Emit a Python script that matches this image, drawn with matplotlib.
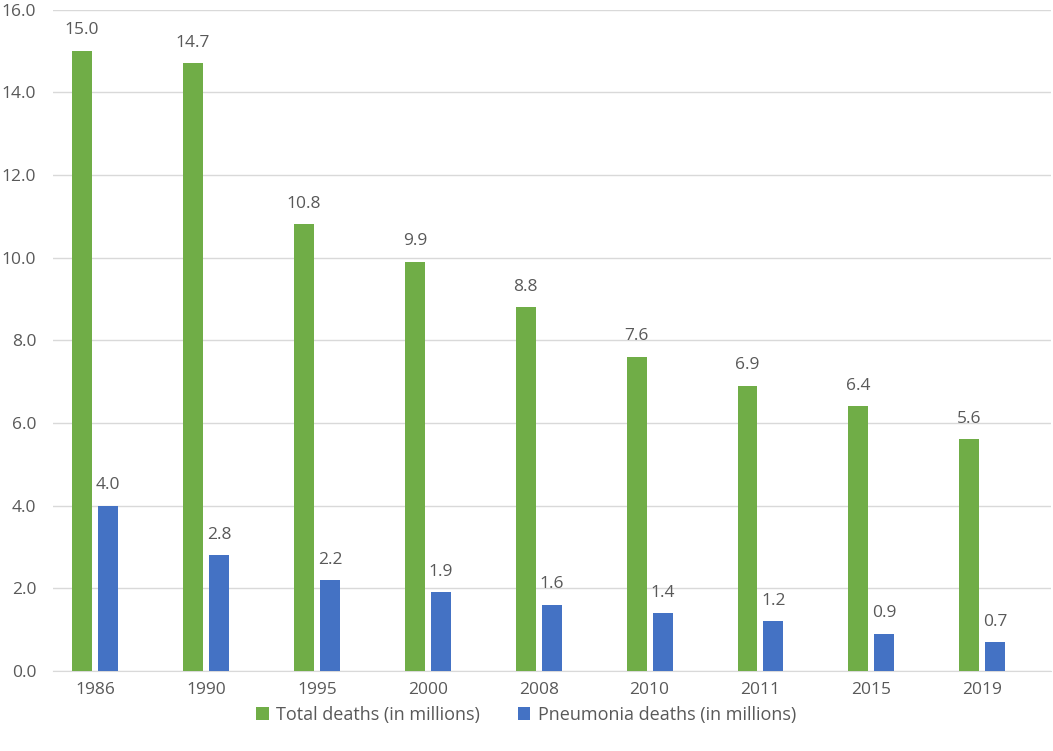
import matplotlib.pyplot as plt
import numpy as np

years = ["1986", "1990", "1995", "2000", "2008", "2010", "2011", "2015", "2019"]
total_deaths = [15.0, 14.7, 10.8, 9.9, 8.8, 7.6, 6.9, 6.4, 5.6]
pneumonia_deaths = [4.0, 2.8, 2.2, 1.9, 1.6, 1.4, 1.2, 0.9, 0.7]

GREEN = "#70AD47"
BLUE = "#4472C4"
TEXT = "#595959"
GRID = "#D9D9D9"

plt.rcParams["font.family"] = ["Open Sans", "DejaVu Sans"]

fig = plt.figure(figsize=(10.53, 7.51), dpi=100)
ax = fig.add_axes([53 / 1053, 80 / 751, 998 / 1053, 661.5 / 751])

x = np.arange(len(years))
w = 0.18
off = 0.117
b1 = ax.bar(x - off, total_deaths, w, color=GREEN, label="Total deaths (in millions)", zorder=3)
b2 = ax.bar(x + off, pneumonia_deaths, w, color=BLUE, label="Pneumonia deaths (in millions)", zorder=3)

for bars in (b1, b2):
    ax.bar_label(bars, fmt="%.1f", padding=9, fontsize=12.5, color=TEXT)

ax.set_xlim(-0.38, 8.62)
ax.set_ylim(0, 16)
ax.set_yticks(np.arange(0, 16.1, 2))
ax.yaxis.set_major_formatter(plt.FuncFormatter(lambda v, p: f"{v:.1f}"))
ax.set_xticks(x)
ax.set_xticklabels(years)
ax.tick_params(length=0, labelsize=12.5, labelcolor=TEXT)
ax.tick_params(axis="y", pad=12)
ax.tick_params(axis="x", pad=8)
ax.grid(axis="y", color=GRID, linewidth=1, zorder=0)
for s in ("top", "right", "left"):
    ax.spines[s].set_visible(False)
ax.spines["bottom"].set_color(GRID)

leg = ax.legend(loc="upper center", bbox_to_anchor=(0.474, -0.028), ncol=2, frameon=False,
                fontsize=13, handlelength=0.7, handleheight=0.7, columnspacing=2.1, handletextpad=0.4)
for t in leg.get_texts():
    t.set_color(TEXT)

fig.savefig("out.png", dpi=100)
